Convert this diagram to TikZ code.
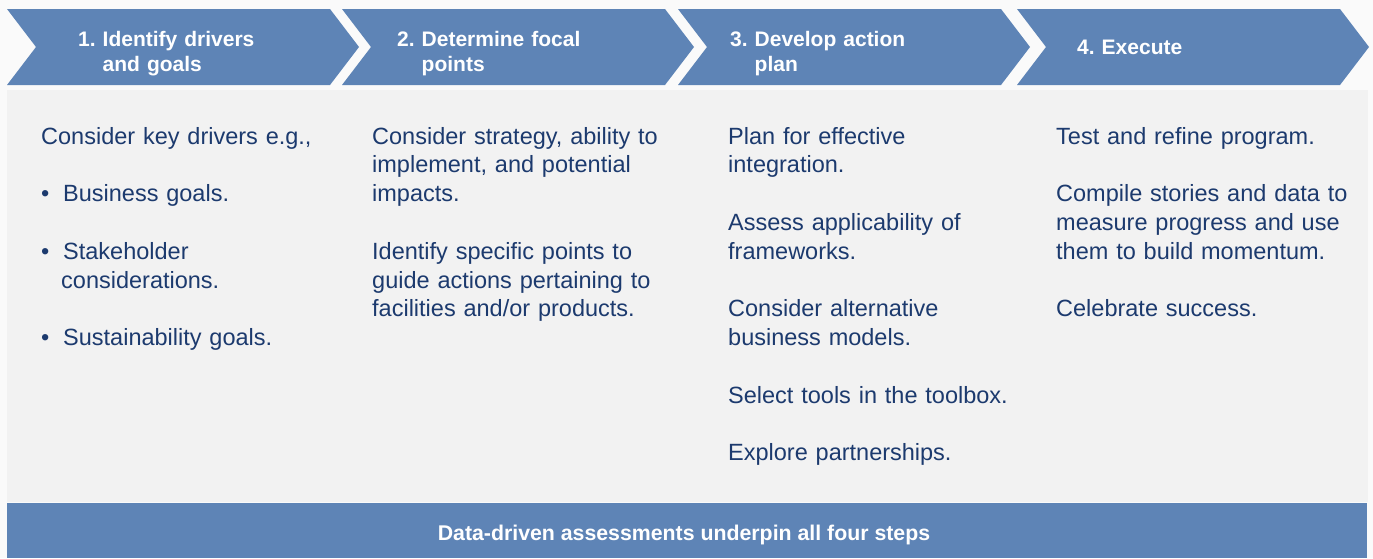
\documentclass[tikz,border=0pt]{standalone}
\usepackage{fontspec}
\setmainfont{Liberation Sans}
\frenchspacing
\definecolor{stepblue}{HTML}{5E84B6}
\definecolor{panelgray}{HTML}{F2F2F2}
\definecolor{navytext}{HTML}{1C3A6E}
\definecolor{bgwhite}{HTML}{FAFAFA}
\begin{document}
\begin{tikzpicture}[x=1pt,y=-1pt,
  chev/.style={fill=stepblue, draw=none},
  head/.style={anchor=base west, inner sep=0pt, text=white, text width=300pt, align=left, font=\fontsize{21}{25}\selectfont\bfseries\frenchspacing},
  body/.style={anchor=base west, inner sep=0pt, text=navytext, text width=330pt, align=left, font=\fontsize{23.5}{28.8}\selectfont\frenchspacing},
  bul/.style={anchor=base west, inner sep=0pt, text=navytext, font=\fontsize{23.5}{28.8}\selectfont},
]
\useasboundingbox (0,0) rectangle (1373,558);
\fill[bgwhite] (0,0) rectangle (1373,558);
% panel and bar
\fill[panelgray] (7,90) rectangle (1368,501.5);
\fill[stepblue] (7,503) rectangle (1367,558);
% chevrons
\def\d{29}
\foreach \L in {7,342,678,1017}{
  \fill[stepblue] (\L,9) -- ({\L+323},9) -- ({\L+323+\d},47) -- ({\L+323},85) -- (\L,85) -- ({\L+\d},47) -- cycle;
}
% headers
\node[head] (h1) at (78,46) {1. Identify drivers\\\hphantom{1. }and goals};
\node[head] (h2) at (397,46) {2. Determine focal\\\hphantom{2. }points};
\node[head] (h3) at (730,46) {3. Develop action\\\hphantom{3. }plan};
\node[head] (h4) at (1077,54) {4. Execute};
% column 1
\node[body] (c1a) at (41,144) {Consider key drivers e.g.,};
\node[bul] (b1) at (41,201.6) {•};
\node[body] (c1b) at (63,201.6) {Business goals.};
\node[bul] (b2) at (41,259.2) {•};
\node[body] (c1c) at (63,259.2) {Stakeholder\\\hspace*{-2pt}considerations.};
\node[bul] (b3) at (41,345.6) {•};
\node[body] (c1d) at (63,345.6) {Sustainability goals.};
% column 2
\node[body] (c2a) at (372,144) {Consider strategy, ability to\\implement, and potential\\impacts.};
\node[body] (c2b) at (372,259.2) {Identify specific points to\\guide actions pertaining to\\facilities and/or products.};
% column 3
\node[body] (c3a) at (728,144) {Plan for effective\\integration.};
\node[body] (c3b) at (728,230.4) {Assess applicability of\\frameworks.};
\node[body] (c3c) at (728,316.8) {Consider alternative\\business models.};
\node[body] (c3d) at (728,403.2) {Select tools in the toolbox.};
\node[body] (c3e) at (728,460.8) {Explore partnerships.};
% column 4
\node[body] (c4a) at (1056,144) {Test and refine program.};
\node[body] (c4b) at (1056,201.6) {Compile stories and data to\\measure progress and use\\them to build momentum.};
\node[body] (c4c) at (1056,316.8) {Celebrate success.};
% bottom bar text
\node[anchor=base, inner sep=0pt, text=white, font=\fontsize{21.3}{25}\selectfont\bfseries] (foot) at (684,540.5) {Data-driven assessments underpin all four steps};
\end{tikzpicture}
\end{document}
